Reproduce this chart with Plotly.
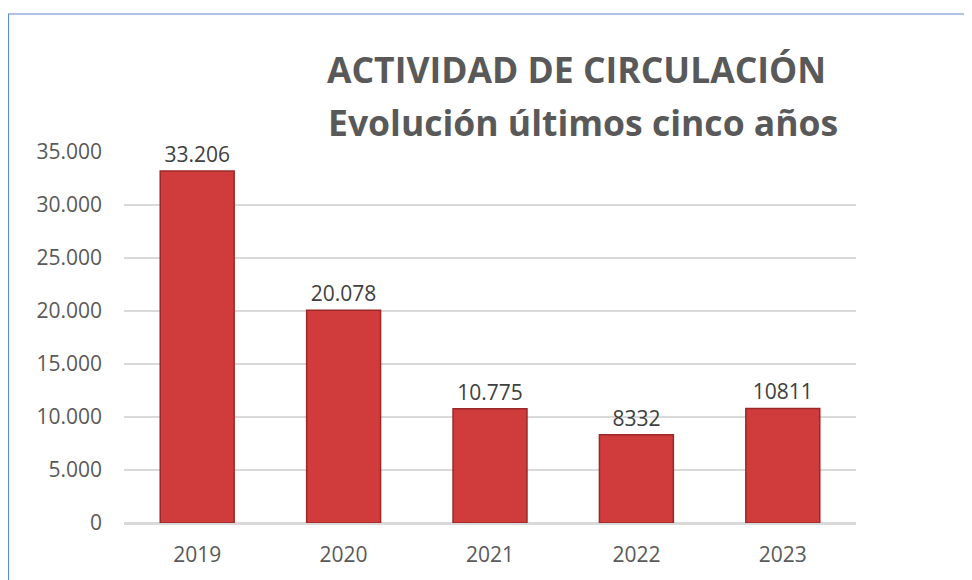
import plotly.graph_objects as go

years = ["2019", "2020", "2021", "2022", "2023"]
values = [33206, 20078, 10775, 8332, 10811]
labels = ["33.206", "20.078", "10.775", "8332", "10811"]
title1 = "ACTIVIDAD DE CIRCULACIÓN"
title2 = "Evolución últimos cinco años"

FONT = "Open Sans"

fig = go.Figure(go.Bar(
    x=years, y=values, text=labels, textposition="outside",
    textfont=dict(size=21, color="#404040", family=FONT),
    marker=dict(color="#D03C3C", line=dict(color="#9A2828", width=1.5)),
    width=0.505, cliponaxis=False,
))

fig.update_layout(
    width=964, height=572,
    margin=dict(l=116, r=116, t=144, b=57),
    paper_bgcolor="white", plot_bgcolor="white",
    separators=",.",
    showlegend=False,
    font=dict(family=FONT, color="#595959", size=21),
    xaxis=dict(showgrid=False, showline=True, linecolor="#D9D9D9", linewidth=1.5,
               ticks="", tickfont=dict(size=21, color="#595959"),
               ticklabelstandoff=12),
    yaxis=dict(range=[0, 35000], dtick=5000, tickformat=",", showgrid=True,
               gridcolor="#D9D9D9", gridwidth=1.5, zeroline=True, zerolinecolor="#D9D9D9",
               zerolinewidth=1.5,
               ticks="", ticklen=0, tickfont=dict(size=21, color="#595959"),
               ticklabelstandoff=21),
    shapes=[dict(type="rect", xref="paper", yref="paper", x0=-0.1578, x1=1.3,
                 y0=-0.4, y1=1.372, line=dict(color="#5B8BD0", width=1.2),
                 fillcolor="rgba(0,0,0,0)", layer="below")],
    annotations=[
        dict(text="<b>" + title1 + "</b>", xref="paper", yref="paper",
             x=0.618, y=1.224, xanchor="center", yanchor="middle",
             showarrow=False, font=dict(size=35.5, color="#595959", family=FONT)),
        dict(text="<b>" + title2 + "</b>", xref="paper", yref="paper",
             x=0.627, y=1.081, xanchor="center", yanchor="middle",
             showarrow=False, font=dict(size=35.5, color="#595959", family=FONT)),
    ],
)

fig.write_html("out.html")
